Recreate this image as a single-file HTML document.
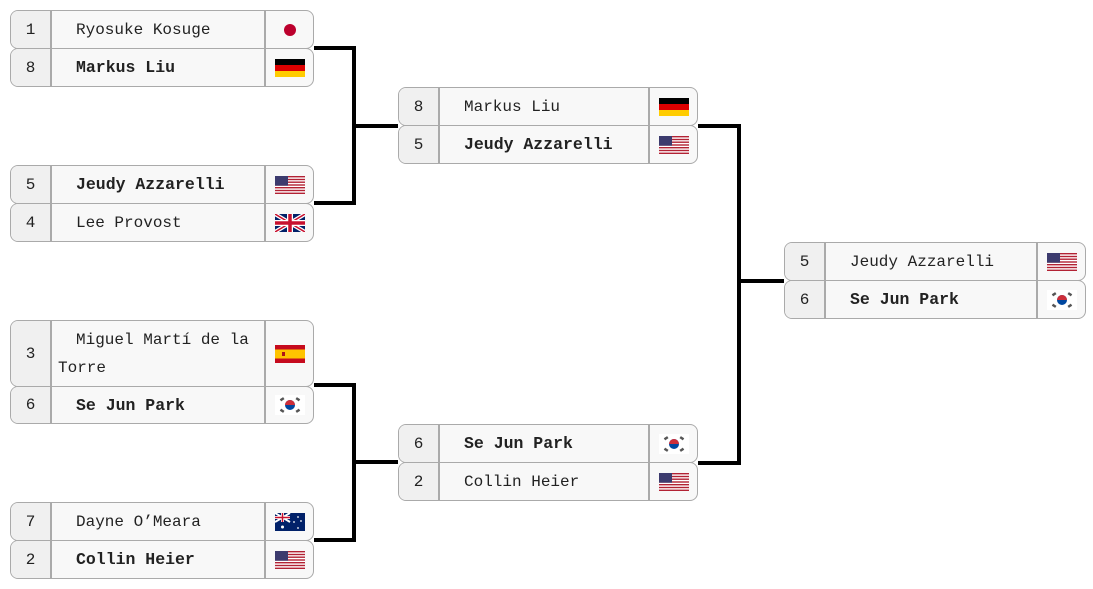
<!DOCTYPE html>
<html><head><meta charset="utf-8"><style>
body{margin:0;width:1093px;height:589px;background:#fff;position:relative;overflow:hidden;font-family:"Liberation Mono","Noto Serif CJK SC",monospace;font-size:16px;color:#222}
.r{position:absolute;box-sizing:border-box;border:1px solid #aaa;border-radius:8px;background:#f8f8f8;display:flex;overflow:hidden}
.s{width:39px;border-right:2px solid #aaa;background:#f0f0f0;display:flex;align-items:center;justify-content:center}
.n{flex:1;border-right:2px solid #aaa;display:flex;align-items:center;padding-left:24px}
.n.m{padding-left:6px;text-indent:18px;line-height:28px;align-items:center}
.b{font-weight:bold;font-size:16.5px}
.f{width:47px;display:flex;align-items:center;justify-content:center}
.l{position:absolute;background:#000}
svg{display:block}
</style></head><body>
<svg width="0" height="0" style="position:absolute">
<defs>
<symbol id="jp" viewBox="0 0 30 20"><circle cx="15" cy="10" r="6" fill="#bc002d"/></symbol>
<symbol id="de" viewBox="0 0 30 18"><rect width="30" height="6" fill="#000"/><rect y="6" width="30" height="6" fill="#d00"/><rect y="12" width="30" height="6" fill="#fc0"/></symbol>
<symbol id="us" viewBox="0 0 30 18"><rect width="30" height="18" fill="#fff"/><g fill="#b22234"><rect y="0" width="30" height="1.4"/><rect y="2.8" width="30" height="1.4"/><rect y="5.5" width="30" height="1.4"/><rect y="8.3" width="30" height="1.4"/><rect y="11" width="30" height="1.4"/><rect y="13.8" width="30" height="1.4"/><rect y="16.6" width="30" height="1.4"/></g><rect width="13" height="9.7" fill="#3c3b6e"/></symbol>
<symbol id="gb" viewBox="0 0 30 18"><rect width="30" height="18" fill="#012169"/><path d="M0 0L30 18M30 0L0 18" stroke="#fff" stroke-width="4"/><path d="M0 0L30 18M30 0L0 18" stroke="#c8102e" stroke-width="1.5"/><path d="M15 0V18M0 9H30" stroke="#fff" stroke-width="6"/><path d="M15 0V18M0 9H30" stroke="#c8102e" stroke-width="3.5"/></symbol>
<symbol id="es" viewBox="0 0 30 18"><rect width="30" height="18" fill="#c60b1e"/><rect y="4.5" width="30" height="9" fill="#ffc400"/><rect x="7" y="7" width="3" height="4" fill="#ad1519"/></symbol>
<symbol id="kr" viewBox="0 0 30 20"><rect width="30" height="20" fill="#fff"/><circle cx="15" cy="10" r="5" fill="#0047a0"/><path d="M10 10A5 5 0 0 1 20 10Z" fill="#cd2e3a"/><g fill="#555"><rect x="5" y="3" width="4" height="2.5" transform="rotate(-33 7 4)"/><rect x="21" y="3" width="4" height="2.5" transform="rotate(33 23 4)"/><rect x="5" y="14.5" width="4" height="2.5" transform="rotate(33 7 16)"/><rect x="21" y="14.5" width="4" height="2.5" transform="rotate(-33 23 16)"/></g></symbol>
<symbol id="au" viewBox="0 0 30 18"><rect width="30" height="18" fill="#012169"/><path d="M0 0L15 9M15 0L0 9" stroke="#fff" stroke-width="2"/><path d="M7.5 0V9M0 4.5H15" stroke="#fff" stroke-width="3"/><path d="M7.5 0V9M0 4.5H15" stroke="#c8102e" stroke-width="1.5"/><g fill="#fff"><circle cx="7.5" cy="14" r="1.5"/><circle cx="23" cy="4" r="0.9"/><circle cx="19" cy="9" r="0.9"/><circle cx="26" cy="8" r="0.9"/><circle cx="23" cy="15" r="0.9"/></g></symbol>
</defs></svg>

<!-- Round 1 -->
<div class="r" style="left:10px;top:10px;width:304px;height:39px"><div class="s">1</div><div class="n">Ryosuke Kosuge</div><div class="f"><svg width="30" height="20"><use href="#jp"/></svg></div></div>
<div class="r" style="left:10px;top:48px;width:304px;height:39px"><div class="s">8</div><div class="n b">Markus Liu</div><div class="f"><svg width="30" height="18"><use href="#de"/></svg></div></div>

<div class="r" style="left:10px;top:165px;width:304px;height:39px"><div class="s">5</div><div class="n b">Jeudy Azzarelli</div><div class="f"><svg width="30" height="18"><use href="#us"/></svg></div></div>
<div class="r" style="left:10px;top:203px;width:304px;height:39px"><div class="s">4</div><div class="n">Lee Provost</div><div class="f"><svg width="30" height="18"><use href="#gb"/></svg></div></div>

<div class="r" style="left:10px;top:320px;width:304px;height:67px"><div class="s">3</div><div class="n m">Miguel Martí de la Torre</div><div class="f"><svg width="30" height="18"><use href="#es"/></svg></div></div>
<div class="r" style="left:10px;top:386px;width:304px;height:38px"><div class="s">6</div><div class="n b">Se Jun Park</div><div class="f"><svg width="30" height="20"><use href="#kr"/></svg></div></div>

<div class="r" style="left:10px;top:502px;width:304px;height:39px"><div class="s">7</div><div class="n">Dayne O’Meara</div><div class="f"><svg width="30" height="18"><use href="#au"/></svg></div></div>
<div class="r" style="left:10px;top:540px;width:304px;height:39px"><div class="s">2</div><div class="n b">Collin Heier</div><div class="f"><svg width="30" height="18"><use href="#us"/></svg></div></div>

<!-- Round 2 -->
<div class="r" style="left:398px;top:87px;width:300px;height:39px"><div class="s">8</div><div class="n">Markus Liu</div><div class="f"><svg width="30" height="18"><use href="#de"/></svg></div></div>
<div class="r" style="left:398px;top:125px;width:300px;height:39px"><div class="s">5</div><div class="n b">Jeudy Azzarelli</div><div class="f"><svg width="30" height="18"><use href="#us"/></svg></div></div>

<div class="r" style="left:398px;top:424px;width:300px;height:39px"><div class="s">6</div><div class="n b">Se Jun Park</div><div class="f"><svg width="30" height="20"><use href="#kr"/></svg></div></div>
<div class="r" style="left:398px;top:462px;width:300px;height:39px"><div class="s">2</div><div class="n">Collin Heier</div><div class="f"><svg width="30" height="18"><use href="#us"/></svg></div></div>

<!-- Final -->
<div class="r" style="left:784px;top:242px;width:302px;height:39px"><div class="s">5</div><div class="n">Jeudy Azzarelli</div><div class="f"><svg width="30" height="18"><use href="#us"/></svg></div></div>
<div class="r" style="left:784px;top:280px;width:302px;height:39px"><div class="s">6</div><div class="n b">Se Jun Park</div><div class="f"><svg width="30" height="20"><use href="#kr"/></svg></div></div>

<!-- Connectors -->
<div class="l" style="left:314px;top:46px;width:42px;height:4px"></div>
<div class="l" style="left:314px;top:201px;width:42px;height:4px"></div>
<div class="l" style="left:352px;top:46px;width:4px;height:159px"></div>
<div class="l" style="left:352px;top:124px;width:46px;height:4px"></div>

<div class="l" style="left:314px;top:383px;width:42px;height:4px"></div>
<div class="l" style="left:314px;top:538px;width:42px;height:4px"></div>
<div class="l" style="left:352px;top:383px;width:4px;height:159px"></div>
<div class="l" style="left:352px;top:460px;width:46px;height:4px"></div>

<div class="l" style="left:698px;top:124px;width:43px;height:4px"></div>
<div class="l" style="left:698px;top:461px;width:43px;height:4px"></div>
<div class="l" style="left:737px;top:124px;width:4px;height:341px"></div>
<div class="l" style="left:737px;top:279px;width:47px;height:4px"></div>
</body></html>
